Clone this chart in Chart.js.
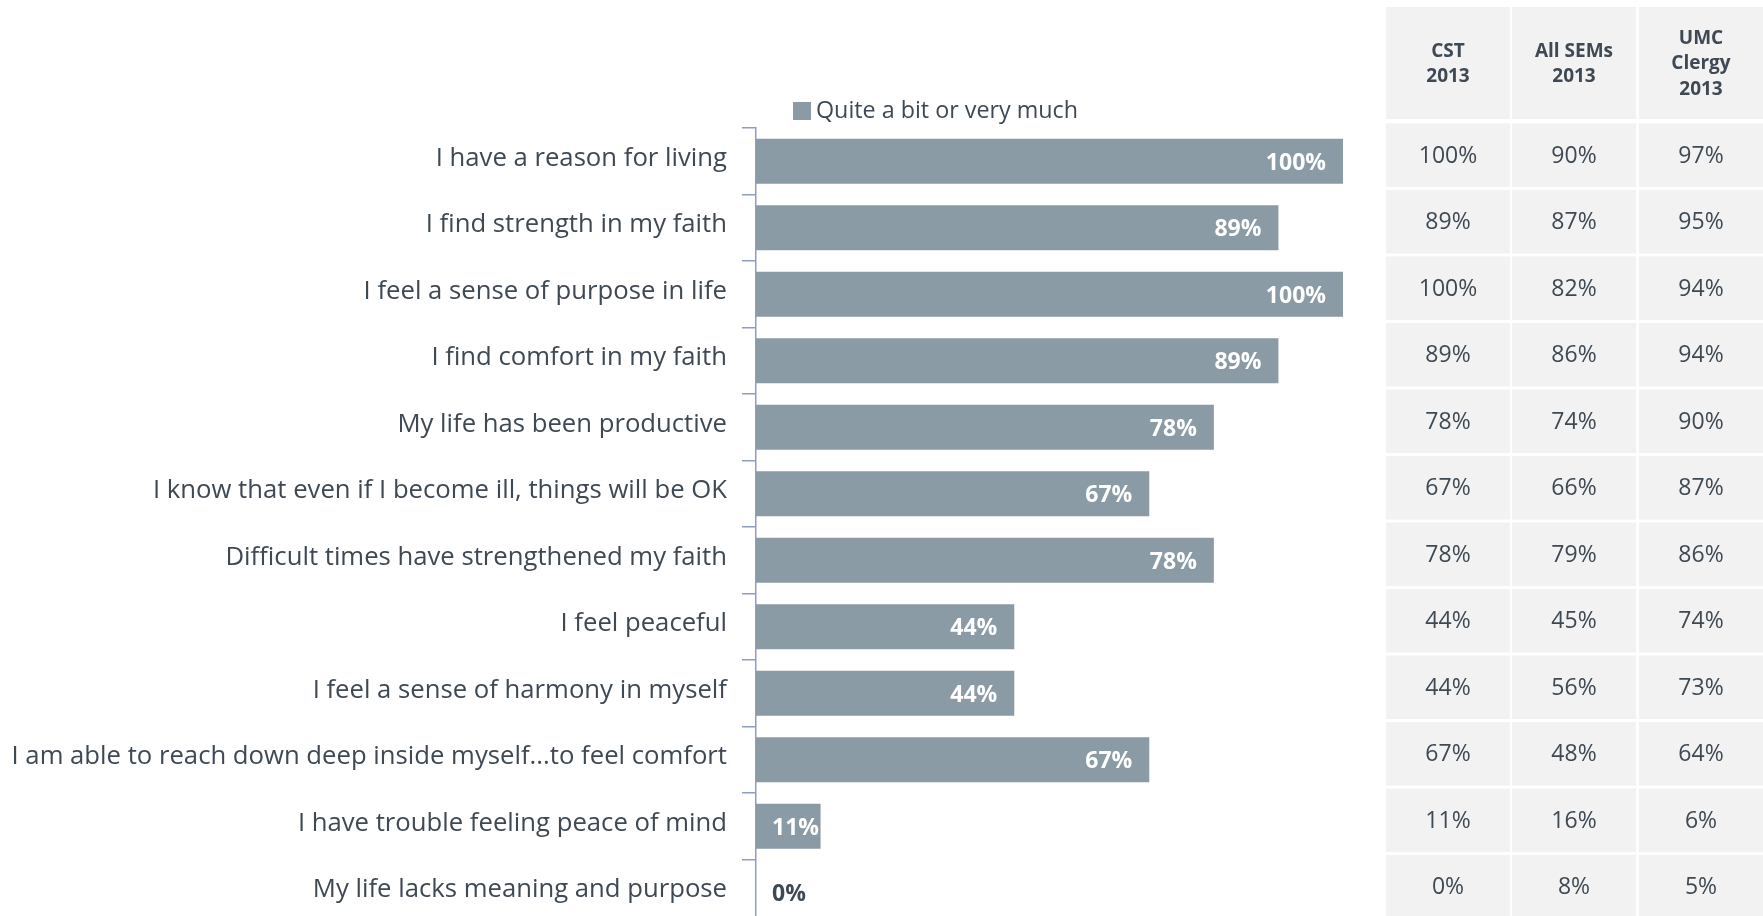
<!DOCTYPE html>
<html>
<head>
<meta charset="utf-8">
<script src="https://cdn.jsdelivr.net/npm/chart.js@4"></script>
<style>
  html, body { margin: 0; padding: 0; background: #fff; overflow: hidden; }
  canvas { display: block; }
</style>
</head>
<body>
<canvas id="chart" width="1763" height="926"></canvas>
<script>
// statements, top to bottom
const statements = [
  "I have a reason for living",
  "I find strength in my faith",
  "I feel a sense of purpose in life",
  "I find comfort in my faith",
  "My life has been productive",
  "I know that even if I become ill, things will be OK",
  "Difficult times have strengthened my faith",
  "I feel peaceful",
  "I feel a sense of harmony in myself",
  "I am able to reach down deep inside myself...to feel comfort",
  "I have trouble feeling peace of mind",
  "My life lacks meaning and purpose"
];
const seriesLabel = "Quite a bit or very much";
const cst2013 = [100, 89, 100, 89, 78, 67, 78, 44, 44, 67, 11, 0];

// comparison columns
const tableHeads = [["CST", "2013"], ["All SEMs", "2013"], ["UMC", "Clergy", "2013"]];
const allSems2013 = [90, 87, 82, 86, 74, 66, 79, 45, 56, 48, 16, 8];
const umcClergy2013 = [97, 95, 94, 94, 90, 87, 86, 74, 73, 64, 6, 5];

const barColor = "#8A9BA5";
const textColor = "#3E4954";
const axisColor = "#8F9CC9";
const FONT = "'Open Sans', sans-serif";

// value labels sit inside the bar end, pushed right of the axis when the bar is short
const valueLabels = {
  id: "valueLabels",
  afterDatasetsDraw(chart) {
    const ctx = chart.ctx;
    const meta = chart.getDatasetMeta(0);
    const x0 = chart.scales.x.getPixelForValue(0);
    ctx.save();
    ctx.font = "bold 23px " + FONT;
    ctx.textBaseline = "middle";
    ctx.textAlign = "left";
    meta.data.forEach(function(bar, i) {
      const txt = cst2013[i] + "%";
      const w = ctx.measureText(txt).width;
      let x = bar.x - 17 - w;
      if (x < x0 + 16) x = x0 + 16;
      ctx.fillStyle = cst2013[i] > 5 ? "#ffffff" : textColor;
      ctx.fillText(txt, x, bar.y + 2);
    });
    ctx.restore();
  }
};

// legend swatch and the side table of comparison values
const sideTable = {
  id: "sideTable",
  afterDraw(chart) {
    const ctx = chart.ctx;
    const y = chart.scales.y;
    ctx.save();

    // legend
    ctx.fillStyle = barColor;
    ctx.fillRect(793, 102, 18, 18);
    ctx.fillStyle = textColor;
    ctx.font = "23.3px " + FONT;
    ctx.textBaseline = "middle";
    ctx.textAlign = "left";
    ctx.fillText(seriesLabel, 816, 111);

    const cols = [1386, 1512, 1639];
    const colW = 124;
    const cols_data = [cst2013, allSems2013, umcClergy2013];

    // header
    ctx.textAlign = "center";
    cols.forEach(function(cx, c) {
      ctx.fillStyle = "#F2F2F2";
      ctx.fillRect(cx, 7, colW, 112);
      ctx.fillStyle = textColor;
      ctx.font = "bold 19px " + FONT;
      const lines = tableHeads[c];
      const lh = 25.5;
      const top = 64 - (lines.length - 1) * lh / 2;
      lines.forEach(function(l, k) {
        ctx.fillText(l, cx + colW / 2, top + k * lh);
      });
    });

    // rows follow the category scale
    const pitch = Math.abs(y.getPixelForValue(1) - y.getPixelForValue(0));
    const cellH = pitch - 3;
    statements.forEach(function(s, i) {
      const cy = y.getPixelForValue(i) - 6;
      cols.forEach(function(cx, c) {
        ctx.fillStyle = "#F2F2F2";
        ctx.fillRect(cx, cy - cellH / 2, colW, cellH);
        ctx.fillStyle = textColor;
        ctx.font = "23px " + FONT;
        ctx.fillText(cols_data[c][i] + "%", cx + colW / 2, cy + 1);
      });
    });
    ctx.restore();
  }
};

new Chart(document.getElementById("chart"), {
  type: "bar",
  data: {
    labels: statements,
    datasets: [{
      label: seriesLabel,
      data: cst2013,
      backgroundColor: barColor,
      borderWidth: 0,
      barPercentage: 0.68,
      categoryPercentage: 1
    }]
  },
  options: {
    indexAxis: "y",
    responsive: false,
    animation: false,
    layout: { padding: { top: 128, right: 420, left: 0, bottom: 0 } },
    plugins: {
      legend: { display: false },
      tooltip: { enabled: false }
    },
    scales: {
      x: { display: false, min: 0, max: 100 },
      y: {
        afterFit: function(scale) {
          scale.width = 756;
          scale.paddingTop = 0;
          scale.paddingBottom = 0;
        },
        border: { display: true, color: axisColor, width: 1.5 },
        grid: { drawOnChartArea: false, color: axisColor, tickLength: 14, lineWidth: 1.5 },
        ticks: { color: textColor, font: { family: FONT, size: 25.7 }, padding: 15, labelOffset: -3 }
      }
    }
  },
  plugins: [valueLabels, sideTable]
});
</script>
</body>
</html>
